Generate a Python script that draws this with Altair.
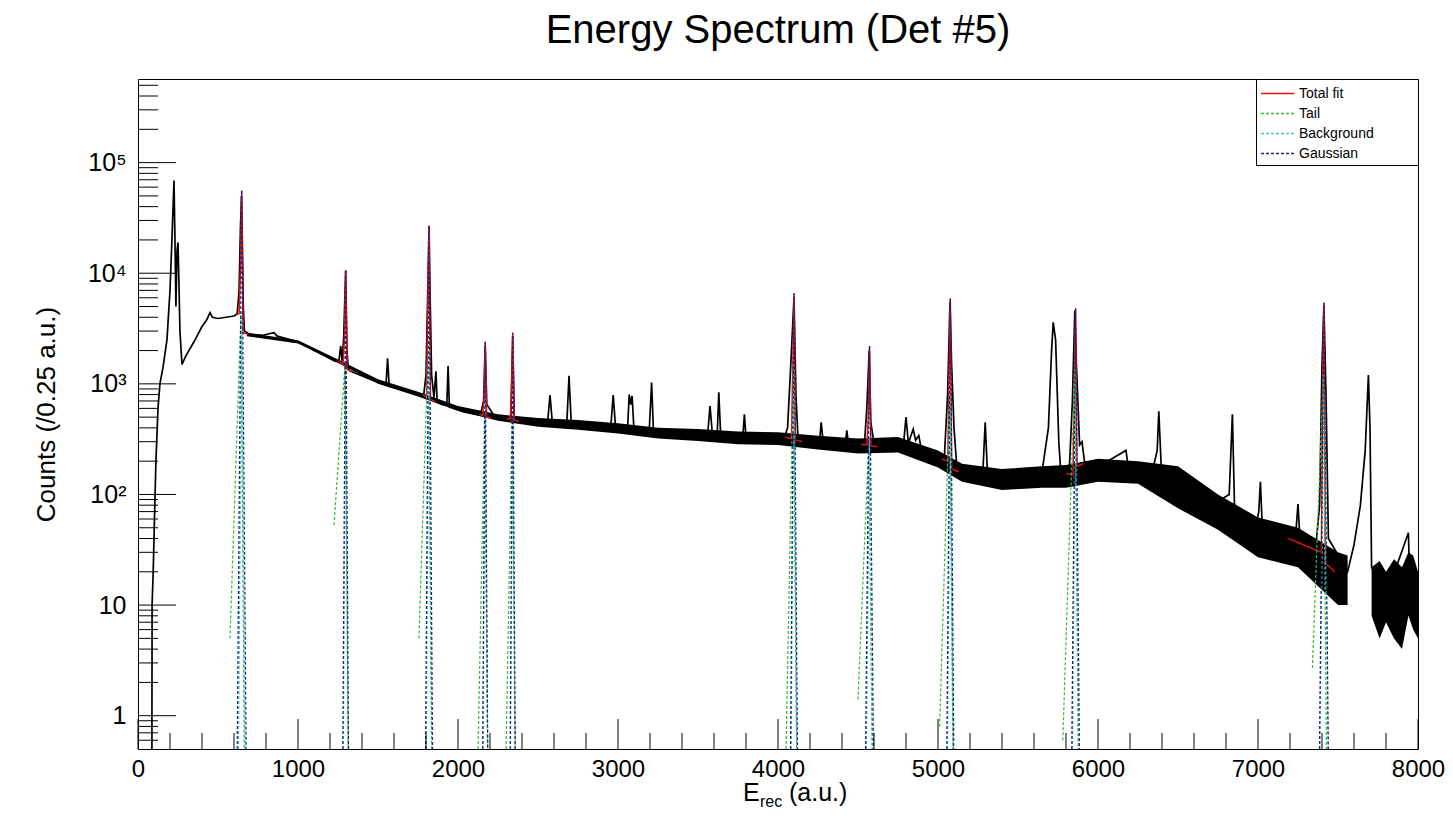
import altair as alt
import pandas as pd

W, H = 1280, 670

# ---- measured spectrum (E, counts) ----
spectrum = [
    (70, 0.4), (87, 0.5), (88, 10), (95, 20), (100, 40), (112, 200), (125, 600), (137, 1000),
    (156, 1400), (181, 2500), (200, 7000), (212, 20000), (225, 69000), (231, 20000), (237, 5000),
    (244, 16000), (250, 19000), (256, 8000), (262, 3000), (275, 1500),
    (300, 1800), (350, 2400), (400, 3300), (430, 3800), (450, 4400), (465, 4000), (500, 3900),
    (550, 4000), (600, 4100), (620, 4300), (632, 7000), (640, 25000), (647, 50000), (652, 20000),
    (658, 5000), (665, 3000), (700, 2800), (780, 2750), (850, 2900), (870, 2700), (1000, 2400),
    (1120, 1950), (1230, 1600), (1255, 1600), (1267, 2200), (1275, 1600), (1285, 2500),
    (1298, 10500), (1306, 2000), (1315, 1350), (1330, 1300), (1450, 1100), (1550, 980),
    (1560, 1700), (1570, 950), (1720, 850), (1785, 780), (1800, 1200), (1812, 8000),
    (1819, 26000), (1826, 6000), (1835, 1200), (1850, 750), (1862, 1300), (1870, 680),
    (1900, 650), (1930, 640), (1938, 1450), (1946, 620), (2030, 560), (2140, 520), (2160, 700),
    (2170, 2200), (2180, 650), (2240, 480), (2330, 500), (2342, 2700), (2352, 490), (2430, 460),
    (2560, 450), (2575, 790), (2590, 440), (2680, 440), (2694, 1180), (2708, 430), (2800, 420),
    (2955, 410), (2970, 790), (2985, 400), (3060, 400), (3070, 800), (3080, 650), (3088, 780),
    (3100, 380), (3195, 370), (3210, 1030), (3222, 360), (3400, 350), (3560, 345), (3575, 630),
    (3590, 350), (3620, 340), (3630, 840), (3642, 335), (3780, 330), (3790, 530), (3800, 325),
    (4040, 330), (4060, 400), (4080, 1500), (4100, 6000), (4112, 800), (4125, 320), (4260, 300),
    (4270, 450), (4282, 300), (4420, 280), (4430, 380), (4442, 275), (4540, 280), (4555, 600),
    (4570, 2000), (4580, 450), (4600, 290), (4785, 290), (4800, 500), (4815, 290), (4845, 390),
    (4860, 310), (4880, 340), (4895, 260), (5000, 210), (5040, 220), (5060, 800), (5075, 5500),
    (5085, 1500), (5100, 400), (5120, 160), (5280, 155), (5295, 450), (5310, 145), (5500, 137),
    (5650, 160), (5690, 400), (5710, 2000), (5720, 3600), (5735, 2500), (5755, 300), (5770, 140),
    (5820, 160), (5840, 700), (5855, 4600), (5865, 1500), (5885, 280), (5900, 300), (5915, 200),
    (5970, 160), (6060, 200), (6175, 250), (6190, 170), (6300, 160), (6330, 140), (6370, 250),
    (6380, 565), (6395, 180), (6450, 105), (6515, 150), (6600, 90), (6700, 78), (6820, 100),
    (6840, 530), (6855, 60), (6980, 45), (7005, 70), (7015, 130), (7030, 40), (7230, 34),
    (7250, 82), (7265, 33), (7360, 32), (7385, 80), (7400, 1500), (7412, 5200), (7425, 800),
    (7440, 40), (7560, 20), (7600, 35), (7640, 80), (7670, 250), (7690, 1200), (7700, 400),
    (7710, 22), (7800, 12), (7940, 45), (7950, 14), (8000, 12),
]

# ---- statistical noise envelope of the spectrum ----
band_E = [680, 1000, 1250, 1500, 1750, 2000, 2250, 2500, 2750, 3000, 3250, 3500, 3750, 4000,
          4250, 4500, 4750, 5000, 5150, 5400, 5650, 5800, 6000, 6250, 6500, 6750, 7000, 7250,
          7500, 7560, 7710, 7760, 7800, 7850, 7900, 7940, 7970, 8000]
band_lo = [2700, 2320, 1540, 1000, 770, 570, 465, 410, 385, 355, 320, 305, 285, 280, 255, 235,
           240, 175, 130, 110, 115, 115, 130, 125, 75, 48, 27, 22, 10, 10, 8, 5, 7, 5, 4, 8, 6, 5]
band_hi = [2900, 2480, 1660, 1100, 850, 630, 530, 490, 470, 440, 400, 390, 370, 365, 340, 320,
           330, 250, 190, 170, 180, 185, 210, 200, 180, 100, 62, 50, 30, 28, 22, 25, 20, 26, 22, 30, 28, 20]
band_seg = ["a"] * 30 + ["b"] * 8

# ---- fitted peaks ----
fit_labels = ["Total fit", "Tail", "Background", "Gaussian"]
fit_colors = ["#e01010", "#33bb33", "#40c8c8", "#202080"]
fit_dashes = [[1, 0], [3, 2], [3, 2], [3, 2]]

peak_E = [648, 1298, 1819, 2170, 2342, 4100, 4572, 5077, 5860, 7412]
peak_top = [56000, 10700, 27000, 2400, 2900, 6600, 2200, 5900, 4800, 5400]
fit_left_E = [612, 1250, 1780, 2135, 2305, 4045, 4520, 5025, 5800, 7190]
fit_left_counts = [4200, 1600, 800, 530, 480, 330, 285, 210, 155, 40]
fit_base_counts = [4300, 1500, 760, 520, 480, 320, 280, 200, 150, 30]
fit_shoulder_counts = [11000, 2500, 5000, 700, 800, 1300, 500, 1200, 1000, 1000]
fit_right_counts = [2900, 1350, 720, 500, 470, 310, 275, 170, 180, 24]
fit_right_E = [690, 1335, 1855, 2205, 2380, 4150, 4620, 5130, 5910, 7480]
fit_right_end_counts = [2800, 1300, 700, 490, 460, 300, 270, 160, 190, 20]
tail_start_E = [575, 1225, 1756, 2125, 2300, 4050, 4500, 5010, 5780, 7340]
tail_start_counts = [5, 53, 5, 0.45, 0.45, 0.45, 1.4, 0.8, 0.6, 2.7]
tail_top = [4500, 1500, 2500, 500, 500, 1500, 320, 800, 1500, 1200]
bkg_top = [4000, 1400, 2000, 560, 520, 1400, 320, 800, 1000, 1200]
bkg_halfwidth = [20, 15, 18, 14, 14, 18, 20, 18, 20, 25]
gauss_halfwidth = [28, 18, 22, 16, 16, 22, 25, 22, 24, 28]
floor_val = 0.45

# ---- axis ticks ----
x_major = list(range(0, 8001, 1000))
x_minor = [e for e in range(0, 8001, 200) if e % 1000]
y_major = [1, 10, 100, 1000, 10000, 100000]
y_minor = [k * 10 ** d for d in range(-1, 6) for k in range(2, 10) if 0.5 < k * 10 ** d < 5.7e5]

# ---- tables ----
spec_df = pd.DataFrame(spectrum, columns=["E", "v"])
band_df = pd.DataFrame({"E": band_E, "v": band_lo, "v2": band_hi, "seg": band_seg})

rows = []
for i, c in enumerate(peak_E):
    pk = f"p{i}"
    for e, v in [(fit_left_E[i], fit_left_counts[i]), (c - 16, fit_base_counts[i]),
                 (c - 8, fit_shoulder_counts[i]), (c, peak_top[i]), (c + 9, fit_right_counts[i]),
                 (fit_right_E[i], fit_right_end_counts[i])]:
        rows.append({"E": e, "v": v, "comp": "Total fit", "pk": pk})
    for e, v in [(tail_start_E[i], tail_start_counts[i]), (c - 4, tail_top[i]), (c + 16, floor_val)]:
        rows.append({"E": e, "v": v, "comp": "Tail", "pk": pk})
    for e, v in [(c - bkg_halfwidth[i], floor_val), (c, bkg_top[i]), (c + bkg_halfwidth[i], floor_val)]:
        rows.append({"E": e, "v": v, "comp": "Background", "pk": pk})
    for e, v in [(c - gauss_halfwidth[i], floor_val), (c, peak_top[i]), (c + gauss_halfwidth[i], floor_val)]:
        rows.append({"E": e, "v": v, "comp": "Gaussian", "pk": pk})
fit_df = pd.DataFrame(rows)

# ---- shared encodings ----
x_axis = alt.Axis(values=x_major, ticks=False, domain=False, grid=False, labelFontSize=24,
                  labelPadding=8, labelFlush=False, labelOverlap=False, title=None,
                  labelColor="black", format="d")
y_axis = alt.Axis(values=y_major, ticks=False, domain=False, grid=False, labelFontSize=25,
                  labelPadding=12, labelOverlap=False, title="Counts (/0.25 a.u.)",
                  titleFontSize=26, titleFontWeight="normal", titlePadding=28,
                  titleColor="black", labelColor="black",
                  labelExpr="datum.value < 5 ? '1' : datum.value < 50 ? '10' : datum.value < 500 ? '10\u00b2' : datum.value < 5000 ? '10\u00b3' : datum.value < 50000 ? '10\u2074' : '10\u2075'")
x_scale = alt.Scale(domain=[0, 8000], nice=False, zero=False)
y_scale = alt.Scale(type="log", domain=[0.5, 5.7e5], nice=False)


def X():
    return alt.X("E:Q", scale=x_scale, axis=x_axis)


def Y():
    return alt.Y("v:Q", scale=y_scale, axis=y_axis)


pad = "\u2800" * 4
legend = alt.Legend(title=None, orient="top-right", offset=0, fillColor="white",
                    strokeColor="black", padding=4, labelFontSize=14,
                    symbolType="M-1,0H2.5", symbolSize=361, symbolStrokeWidth=1.5,
                    rowPadding=2, labelOffset=18, labelColor="black",
                    labelExpr=f"datum.label + '{pad}'")
color_enc = alt.Color("comp:N", scale=alt.Scale(domain=fit_labels, range=fit_colors), legend=legend)
dash_enc = alt.StrokeDash("comp:N", scale=alt.Scale(domain=fit_labels, range=fit_dashes), legend=legend)

band = alt.Chart(band_df).mark_area(color="black", clip=True).encode(
    x=X(), y=Y(), y2="v2:Q", detail="seg:N")
spec = alt.Chart(spec_df).mark_line(color="black", strokeWidth=1.7, clip=True).encode(x=X(), y=Y())

fit_layers = []
for comp, sw in zip(fit_labels, [1.5, 1.2, 1.2, 1.2]):
    fit_layers.append(
        alt.Chart(fit_df).transform_filter(alt.datum.comp == comp)
        .mark_line(strokeWidth=sw, clip=True)
        .encode(x=X(), y=Y(), color=color_enc, strokeDash=dash_enc, detail="pk:N")
    )

ymaj = alt.Chart(pd.DataFrame({"v": y_major})).mark_rule(color="black", strokeWidth=1).encode(
    y=Y(), x=alt.value(0), x2=alt.value(38))
ymin = alt.Chart(pd.DataFrame({"v": y_minor})).mark_rule(color="black", strokeWidth=1).encode(
    y=Y(), x=alt.value(0), x2=alt.value(20))
xmaj = alt.Chart(pd.DataFrame({"E": x_major})).mark_rule(color="black", strokeWidth=1).encode(
    x=X(), y=alt.value(H), y2=alt.value(H - 30))
xmin = alt.Chart(pd.DataFrame({"E": x_minor})).mark_rule(color="black", strokeWidth=1).encode(
    x=X(), y=alt.value(H), y2=alt.value(H - 16))


def label(txt, x, y, size):
    return alt.Chart(pd.DataFrame({"t": [txt]})).mark_text(
        align="left", baseline="alphabetic", fontSize=size, color="black").encode(
        text="t:N", x=alt.value(x), y=alt.value(y))


xt1 = label("E", 605, 722, 25)
xt2 = label("rec", 622, 728, 16)
xt3 = label("(a.u.)", 651, 722, 25)

chart = alt.layer(band, spec, *fit_layers, ymaj, ymin, xmaj, xmin, xt1, xt2, xt3).properties(
    width=W, height=H,
    autosize=alt.AutoSizeParams(type="none"),
    padding={"left": 130, "top": 71, "right": 27, "bottom": 62},
    title=alt.Title("Energy Spectrum (Det #5)", fontSize=40, fontWeight="normal", anchor="middle",
                    frame="group", offset=28, color="black"),
    background="white",
).configure(font="Liberation Sans").configure_view(stroke="black", strokeWidth=1)

chart.save("out.html", embed_options={"renderer": "svg", "actions": False})
